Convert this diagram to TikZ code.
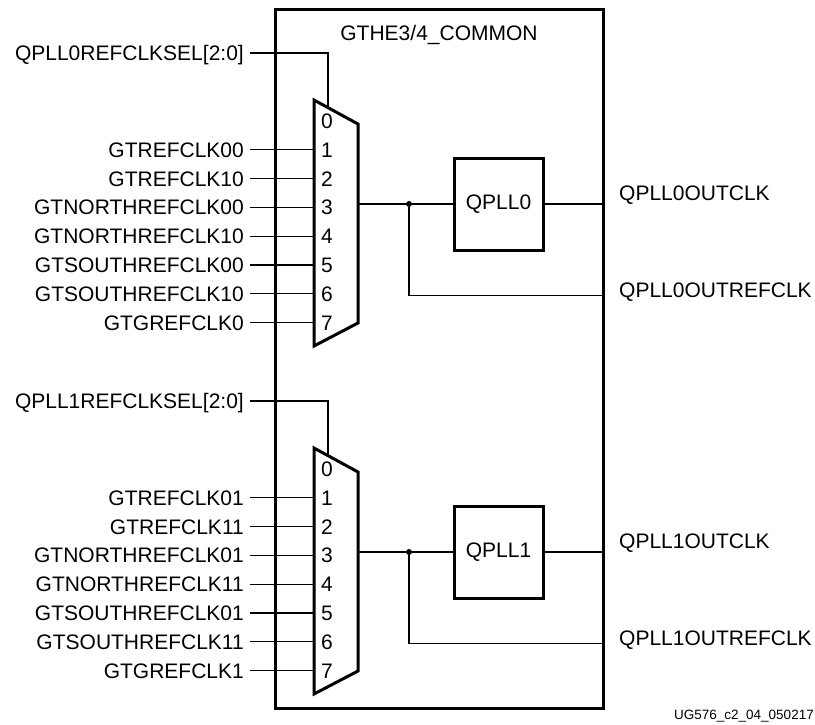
\documentclass[tikz,border=0pt]{standalone}
\usepackage{fontspec}
\setmainfont{Liberation Sans}
\begin{document}
\begin{tikzpicture}[x=1pt,y=-1pt,font=\fontsize{21}{25}\selectfont,line join=miter,
  lbl/.style={inner sep=0pt,text height=15pt,text depth=0pt},
  wire/.style={line width=1.2pt},
  heavy/.style={line width=3pt},
  pllbox/.style={draw,heavy,minimum width=89pt,minimum height=92pt,inner sep=0pt}]
\useasboundingbox (0,0) rectangle (815,724);
\def\muxl{314} \def\muxr{358} \def\pitch{28.8}
% GTHE3/4_COMMON frame
\node[draw,heavy,minimum width=328pt,minimum height=699pt,inner sep=0pt] (gt) at (439,359) {};
\node[lbl] (title) at (439,33) {GTHE3/4\_COMMON};
\foreach \k/\dy in {0/0,1/348}{
  % select input
  \node[lbl,anchor=east] (sel\k) at (244,53+\dy) {QPLL\k REFCLKSEL[2:0]};
  \coordinate (ms\k) at (328,107.6+\dy);
  \draw[wire] ([xshift=6pt]sel\k.east) -| (ms\k);
  % mux
  \draw[heavy] (\muxl,100+\dy) -- (\muxr,124+\dy) -- (\muxr,323+\dy) -- (\muxl,346+\dy) -- cycle;
  \node[lbl] (n\k0) at (327,121+\dy) {0};
  \foreach \nm [count=\i] in {GTREFCLK0\k,GTREFCLK1\k,GTNORTHREFCLK0\k,GTNORTHREFCLK1\k,
      GTSOUTHREFCLK0\k,GTSOUTHREFCLK1\k,GTGREFCLK\k}{
    \node[lbl,anchor=east] (in\k\i) at (244,{121+\pitch*\i+\dy}) {\nm};
    \coordinate (mi\k\i) at (\muxl,{121+\pitch*\i+\dy});
    \draw[wire] ([xshift=6pt]in\k\i.east) -- (mi\k\i);
    \node[lbl] (n\k\i) at (327,{121+\pitch*\i+\dy}) {\i};
  }
  % PLL and outputs
  \coordinate (mo\k) at (\muxr,204+\dy);
  \node[circle,fill,inner sep=0pt,minimum size=6pt] (dot\k) at (409,204+\dy) {};
  \node[pllbox] (pll\k) at (498.5,204+\dy) {QPLL\k};
  \node[lbl,anchor=west] (outclk\k) at (619,192.5+\dy) {QPLL\k OUTCLK};
  \node[lbl,anchor=west] (outref\k) at (619,289.5+\dy) {QPLL\k OUTREFCLK};
  \coordinate (rc\k) at (gt.east |- 0,295.5+\dy);
  \draw[wire] (mo\k) -- (dot\k) -- (pll\k);
  \draw[wire] (pll\k) -- (gt.east |- pll\k);
  \draw[wire] (dot\k) |- (rc\k);
}
\node[lbl,anchor=east,font=\fontsize{13.5}{15}\selectfont,text height=9.7pt] (docid) at (814,715) {UG576\_c2\_04\_050217};
\end{tikzpicture}
\end{document}
